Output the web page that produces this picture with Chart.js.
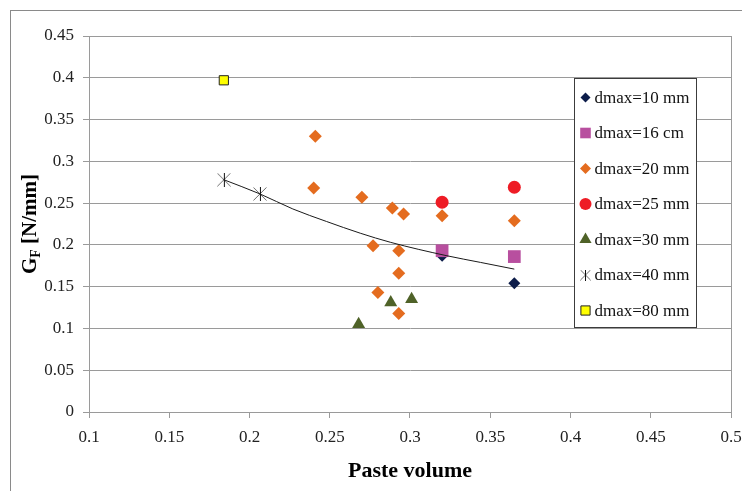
<!DOCTYPE html>
<html lang="en">
<head>
<meta charset="UTF-8">
<title>Fracture energy vs paste volume</title>
<style>
  html, body { margin: 0; padding: 0; background: #fff; overflow: hidden; }
  #wrap { position: relative; width: 742px; height: 491px; }
  #frame { position: absolute; left: 10px; top: 10px; width: 800px; height: 600px; border: 1px solid #8a8a8a; }
  #chart { position: absolute; left: 0; top: 0; }
</style>
<script src="https://cdn.jsdelivr.net/npm/chart.js"></script>
</head>
<body>
<div id="wrap">
  <div id="frame"></div>
  <canvas id="chart" width="742" height="491"></canvas>
</div>
<script>
// ---- data ----
const seriesNames = ['dmax=10 mm', 'dmax=16 cm', 'dmax=20 mm', 'dmax=25 mm', 'dmax=30 mm', 'dmax=40 mm', 'dmax=80 mm'];

const d10X = [0.320, 0.365];
const d10Y = [0.187, 0.154];
const d16X = [0.320, 0.365];
const d16Y = [0.193, 0.186];
const d20X = [0.241, 0.240, 0.270, 0.289, 0.296, 0.320, 0.365, 0.277, 0.293, 0.293, 0.280, 0.293];
const d20Y = [0.330, 0.268, 0.257, 0.244, 0.237, 0.235, 0.229, 0.199, 0.193, 0.166, 0.143, 0.118];
const d25X = [0.320, 0.365];
const d25Y = [0.251, 0.269];
const d30X = [0.268, 0.288, 0.301];
const d30Y = [0.105, 0.131, 0.135];
const d40X = [0.184, 0.2065];
const d40Y = [0.278, 0.261];
const d80X = [0.184];
const d80Y = [0.397];

// trend curve
const trendX = [0.184, 0.2065, 0.227, 0.248, 0.269, 0.288, 0.323, 0.344, 0.365];
const trendY = [0.278, 0.261, 0.243, 0.228, 0.214, 0.203, 0.187, 0.179, 0.171];

const xTickLabels = ['0.1', '0.15', '0.2', '0.25', '0.3', '0.35', '0.4', '0.45', '0.5'];
const yTickLabels = ['0', '0.05', '0.1', '0.15', '0.2', '0.25', '0.3', '0.35', '0.4', '0.45'];

const serif = "'Liberation Serif', 'Times New Roman', serif";
const gridGray = '#9a9a9a';

// asterisk-like marker: an X with a vertical bar through it
function makeStar(size) {
  const c = document.createElement('canvas');
  c.width = size; c.height = size;
  const g = c.getContext('2d');
  g.lineWidth = 1;
  g.strokeStyle = '#6b6b6b';
  g.beginPath();
  g.moveTo(0.5, 0.5); g.lineTo(size - 0.5, size - 0.5);
  g.moveTo(size - 0.5, 0.5); g.lineTo(0.5, size - 0.5);
  g.stroke();
  g.strokeStyle = '#111';
  g.beginPath();
  g.moveTo(Math.floor(size / 2) + 0.5, 0); g.lineTo(Math.floor(size / 2) + 0.5, size);
  g.stroke();
  return c;
}
const starBig = makeStar(14);
const starSmall = makeStar(11);

const pts = (xs, ys) => xs.map((x, i) => ({ x: x, y: ys[i] }));

const markers = [
  { xs: d10X, ys: d10Y, style: 'rectRot', fill: '#0d1d4a', border: '#0d1d4a', bw: 0, r: 6, lr: 5 },
  { xs: d16X, ys: d16Y, style: 'rect', fill: '#b84f9f', border: '#b84f9f', bw: 0, r: 9, lr: 7.5 },
  { xs: d20X, ys: d20Y, style: 'rectRot', fill: '#e46c1f', border: '#e46c1f', bw: 0, r: 6.5, lr: 5.5 },
  { xs: d25X, ys: d25Y, style: 'circle', fill: '#ee1c25', border: '#ee1c25', bw: 0, r: 6.5, lr: 6 },
  { xs: d30X, ys: d30Y, style: 'triangle', fill: '#4f6228', border: '#4f6228', bw: 0, r: 7.5, lr: 7 },
  { xs: d40X, ys: d40Y, style: starBig, legendStyle: starSmall, fill: '#555', border: '#555', bw: 0, r: 7, lr: 5.5 },
  { xs: d80X, ys: d80Y, style: 'rect', fill: '#ffff00', border: '#222', bw: 1, r: 6.5, lr: 6.5 }
];

const datasets = markers.map((m, i) => ({
  label: seriesNames[i],
  data: pts(m.xs, m.ys),
  pointStyle: m.style,
  pointRadius: m.r,
  pointHoverRadius: m.r,
  pointBackgroundColor: m.fill,
  pointBorderColor: m.border,
  pointBorderWidth: m.bw,
  showLine: false,
  order: 10 - i
}));

datasets.push({
  label: 'trend',
  data: pts(trendX, trendY),
  showLine: true,
  borderColor: '#1a1a1a',
  borderWidth: 1,
  pointRadius: 0,
  cubicInterpolationMode: 'monotone',
  order: 0
});

// legend box drawn inside the plot area
const legendBox = {
  id: 'legendBox',
  afterDraw(chart) {
    const ctx = chart.ctx;
    const left = 574.5, top = 78.5, w = 122, h = 249;
    ctx.save();
    ctx.fillStyle = '#fff';
    ctx.fillRect(left, top, w, h);
    ctx.strokeStyle = '#3c3c3c';
    ctx.lineWidth = 1;
    ctx.strokeRect(left, top, w, h);
    ctx.font = '17px ' + serif;
    ctx.textBaseline = 'middle';
    ctx.textAlign = 'left';
    markers.forEach((m, i) => {
      const cy = top + 19 + i * 35.5;
      const cx = left + 11;
      ctx.fillStyle = m.fill;
      ctx.strokeStyle = m.border;
      ctx.lineWidth = m.bw;
      Chart.helpers.drawPoint(ctx, {
        pointStyle: m.legendStyle || m.style,
        radius: m.lr,
        rotation: 0,
        borderWidth: m.bw
      }, cx, cy);
      ctx.fillStyle = '#111';
      ctx.fillText(seriesNames[i], left + 20, cy + 1);
    });
    ctx.restore();
  }
};

// vertical axis title with subscript F
const yTitle = {
  id: 'yTitle',
  afterDraw(chart) {
    const ctx = chart.ctx;
    const big = 'bold 21px ' + serif;
    const small = 'bold 14px ' + serif;
    ctx.save();
    ctx.translate(29, (chart.chartArea.top + chart.chartArea.bottom) / 2);
    ctx.rotate(-Math.PI / 2);
    ctx.fillStyle = '#000';
    ctx.textBaseline = 'alphabetic';
    ctx.font = big;
    const wG = ctx.measureText('G').width;
    const wRest = ctx.measureText(' [N/mm]').width;
    ctx.font = small;
    const wF = ctx.measureText('F').width;
    let x = -(wG + wF + wRest) / 2;
    ctx.font = big;
    ctx.fillText('G', x, 7);
    x += wG;
    ctx.font = small;
    ctx.fillText('F', x, 11);
    x += wF;
    ctx.font = big;
    ctx.fillText(' [N/mm]', x, 7);
    ctx.restore();
  }
};

new Chart(document.getElementById('chart'), {
  type: 'scatter',
  data: { datasets: datasets },
  plugins: [legendBox, yTitle],
  options: {
    responsive: false,
    animation: false,
    layout: { padding: { left: 0, right: 0, top: 36, bottom: 0 } },
    plugins: {
      legend: { display: false },
      tooltip: { enabled: false }
    },
    scales: {
      x: {
        type: 'linear',
        min: 0.1,
        max: 0.5,
        afterFit: (s) => { s.height = 79; s.paddingRight = 11; s.paddingLeft = 0; },
        ticks: {
          stepSize: 0.05,
          color: '#222',
          padding: 9,
          font: { family: serif, size: 17 },
          maxRotation: 0,
          callback: (v, i) => xTickLabels[i]
        },
        grid: {
          color: (c) => (c.tick && Math.abs(c.tick.value - 0.5) < 1e-6) ? gridGray : 'rgba(0,0,0,0)',
          tickColor: gridGray,
          tickLength: 6,
          lineWidth: 1
        },
        border: { display: true, color: gridGray },
        title: {
          display: true,
          text: 'Paste volume',
          color: '#000',
          font: { family: serif, size: 22, weight: 'bold' },
          padding: { top: 0, bottom: 6 }
        }
      },
      y: {
        type: 'linear',
        min: 0,
        max: 0.45,
        afterFit: (s) => { s.width = 89; },
        ticks: {
          stepSize: 0.05,
          color: '#222',
          padding: 9,
          font: { family: serif, size: 17 },
          callback: (v, i) => yTickLabels[i]
        },
        grid: {
          color: gridGray,
          tickColor: gridGray,
          tickLength: 6,
          lineWidth: 1
        },
        border: { display: true, color: gridGray }
      }
    }
  }
});
</script>
</body>
</html>
